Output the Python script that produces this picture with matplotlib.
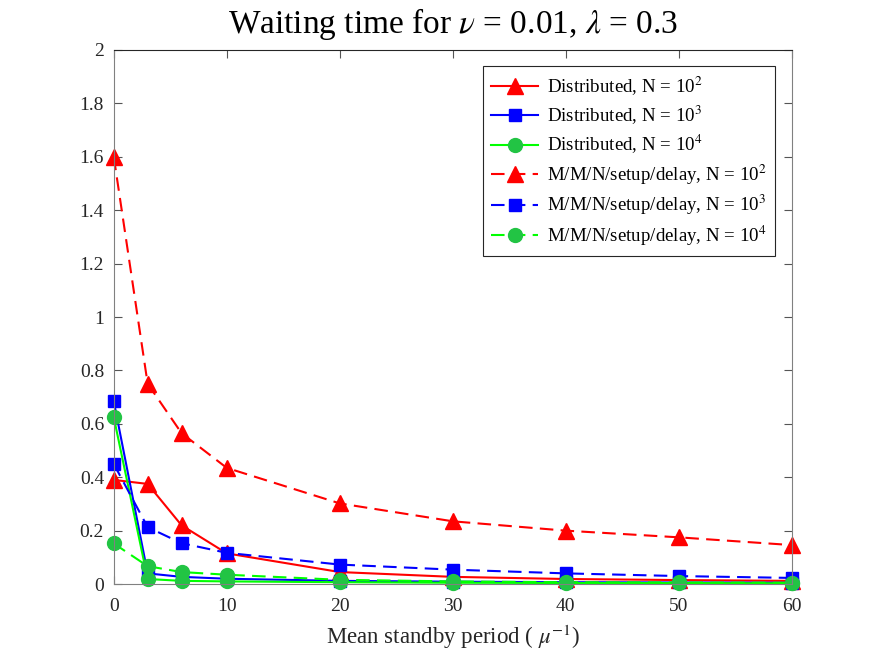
import matplotlib
matplotlib.use("Agg")
import matplotlib.pyplot as plt
from matplotlib.ticker import FuncFormatter

plt.rcParams['font.family'] = ['Liberation Serif', 'DejaVu Serif']
plt.rcParams['mathtext.fontset'] = 'stix'

x = [0, 3, 6, 10, 20, 30, 40, 50, 60]
dist_1e2 = [0.39, 0.375, 0.22, 0.115, 0.045, 0.027, 0.019, 0.015, 0.012]
dist_1e3 = [0.685, 0.04, 0.027, 0.02, 0.012, 0.009, 0.007, 0.006, 0.005]
dist_1e4 = [0.625, 0.019, 0.012, 0.01, 0.007, 0.005, 0.004, 0.004, 0.003]
mmn_1e2 = [1.6, 0.75, 0.565, 0.435, 0.302, 0.235, 0.2, 0.175, 0.146]
mmn_1e3 = [0.45, 0.213, 0.153, 0.117, 0.073, 0.054, 0.04, 0.03, 0.023]
mmn_1e4 = [0.152, 0.067, 0.045, 0.035, 0.016, 0.01, 0.007, 0.006, 0.005]

labels = [r'Distributed, N = 10$^2$', r'Distributed, N = 10$^3$', r'Distributed, N = 10$^4$',
          r'M/M/N/setup/delay, N = 10$^2$', r'M/M/N/setup/delay, N = 10$^3$',
          r'M/M/N/setup/delay, N = 10$^4$']

fig = plt.figure(figsize=(8.75, 6.57), dpi=100)
ax = fig.add_axes([0.13, 0.111, 0.775, 0.813])

red = '#ff0000'
blue = '#0000ff'
green = '#00ff00'
gface = '#22c444'
lw = 1.5

common = dict(lw=lw, clip_on=False)
ax.plot(x, dist_1e2, '-', color=red, marker='^', ms=12, mfc=red, mec=red, label=labels[0], **common)
ax.plot(x, dist_1e3, '-', color=blue, marker='s', ms=8, mfc=blue, mec=blue, label=labels[1], **common)
ax.plot(x, dist_1e4, '-', color=green, marker='o', ms=10, mfc=gface, mec=gface, label=labels[2], **common)
ax.plot(x, mmn_1e2, '--', color=red, marker='^', ms=12, mfc=red, mec=red, dashes=(6.5, 3.5), label=labels[3], **common)
ax.plot(x, mmn_1e3, '--', color=blue, marker='s', ms=8, mfc=blue, mec=blue, dashes=(6.5, 3.5), label=labels[4], **common)
ax.plot(x, mmn_1e4, '--', color=green, marker='o', ms=10, mfc=gface, mec=gface, dashes=(6.5, 3.5), label=labels[5], **common)

ax.set_xlim(0, 60)
ax.set_ylim(0, 2)
ax.set_xticks([0, 10, 20, 30, 40, 50, 60])
ax.set_yticks([0, 0.2, 0.4, 0.6, 0.8, 1.0, 1.2, 1.4, 1.6, 1.8, 2.0])
ax.yaxis.set_major_formatter(FuncFormatter(lambda v, p: ('%g' % round(v, 1))))
axc = '#262626'
for name, s in ax.spines.items():
    s.set_color(axc if name == 'top' else '#808080')
    s.set_linewidth(0.8)
ax.tick_params(direction='in', top=True, right=True, length=6, width=0.8, color='#555555',
               labelsize=14, labelcolor=axc)
ax.tick_params(axis='x', pad=10)
ax.tick_params(axis='y', pad=7)

ax.set_title(r'Waiting time for $\nu$ = 0.01, $\lambda$ = 0.3', fontsize=24, pad=12)
ax.set_xlabel(r'Mean standby period ( $\mu^{-1}$)', fontsize=16.5, color=axc, labelpad=6)

leg = ax.legend(loc='upper right', bbox_to_anchor=(0.975, 0.97), fontsize=13.6,
                frameon=True, fancybox=False, edgecolor=axc, framealpha=1,
                handlelength=2.5, borderpad=0.45, labelspacing=0.33, handletextpad=0.45,
                borderaxespad=0.0)
leg.get_frame().set_linewidth(0.8)

fig.savefig('out.png', dpi=100)
